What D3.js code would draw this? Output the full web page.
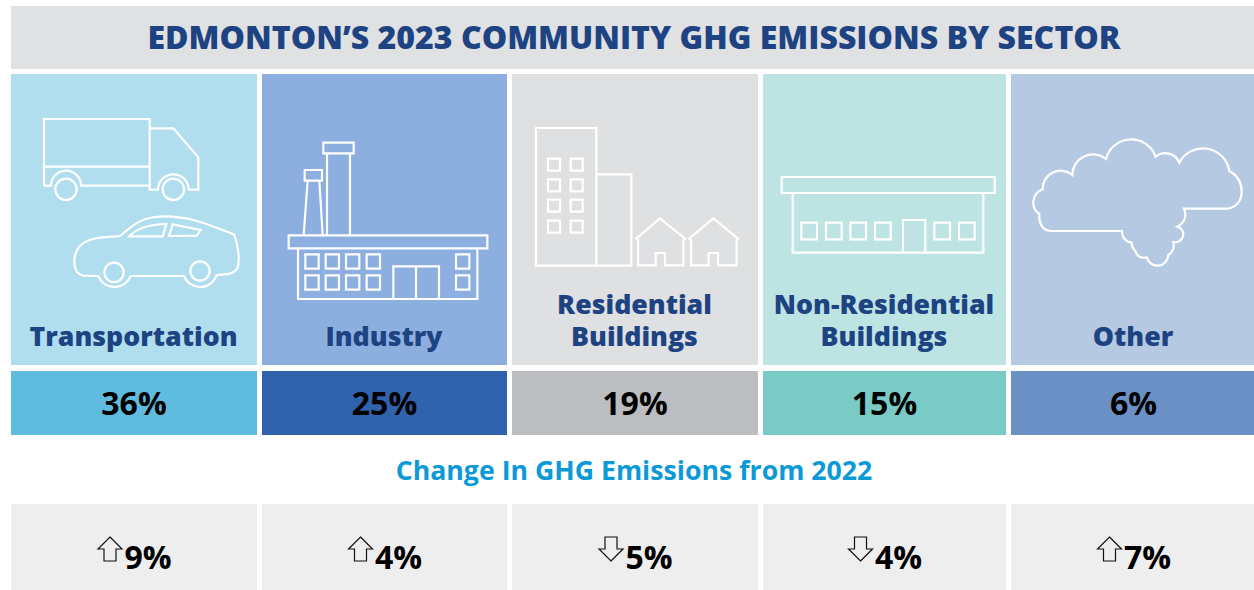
<!DOCTYPE html>
<meta charset="utf-8">
<script src="https://d3js.org/d3.v7.min.js"></script>
<style>
  html, body { margin: 0; padding: 0; background: #fff; }
  svg { display: block; }
  text { font-family: "Open Sans", sans-serif; }
</style>
<div id="my_div"></div>
<script>
    // values
    var sectors = ["Transportation", "Industry", "Residential Buildings", "Non-Residential Buildings", "Other"];
    var shares = [36, 25, 19, 15, 6];
    var changes = [9, 4, -5, -4, 7];
    var lightColors = ["#b1deee", "#8cafe0", "#dfe0e2", "#bde4e3", "#b6c9e3"];
    var darkColors = ["#60bcdf", "#3063ab", "#bbbdc1", "#7acac6", "#6b90c6"];

    var width = 1254, height = 590;

    var svg = d3.select("#my_div")
      .append("svg")
        .attr("width", width)
        .attr("height", height);

    // the columns are not quite equal in the original, the last one runs off the page
    var left = d3.scaleOrdinal().domain(sectors).range([11, 262, 512, 763, 1011]);
    var colWidth = d3.scaleOrdinal().domain(sectors).range([246, 245, 246, 243, 245]);
    var center = function(d) { return left(d) + colWidth(d) / 2; };
    var light = d3.scaleOrdinal().domain(sectors).range(lightColors);
    var dark = d3.scaleOrdinal().domain(sectors).range(darkColors);

    var navy = "#1e4382";

    // title band
    svg.append("rect").attr("x", 11).attr("y", 6).attr("width", 1243).attr("height", 63).attr("fill", "#e0e1e3");
    svg.append("text")
      .attr("x", 634).attr("y", 48.5)
      .attr("text-anchor", "middle")
      .style("font-size", "32px").style("font-weight", 800)
      .attr("fill", navy)
      .text("EDMONTON\u2019S 2023 COMMUNITY GHG EMISSIONS BY SECTOR");

    // top row with the icons
    svg.selectAll(".tile").data(sectors).enter().append("rect")
      .attr("x", left).attr("y", 74)
      .attr("width", colWidth).attr("height", 291)
      .attr("fill", light);

    // sector names, two line names start higher
    svg.selectAll(".name").data(sectors).enter().append("text")
      .attr("text-anchor", "middle")
      .attr("fill", navy)
      .style("font-size", "26.7px").style("font-weight", 800)
      .each(function(d) {
        var words = d.split(" ");
        var y = words.length > 1 ? 314 : 346;
        d3.select(this).selectAll("tspan").data(words).enter().append("tspan")
          .attr("x", center(d) - 0.5)
          .attr("y", function(w, i) { return y + i * 32; })
          .text(function(w) { return w; });
      });

    // share row
    svg.selectAll(".shareBar").data(sectors).enter().append("rect")
      .attr("x", left).attr("y", 371)
      .attr("width", colWidth).attr("height", 64)
      .attr("fill", dark);
    svg.selectAll(".shareText").data(sectors).enter().append("text")
      .attr("x", center).attr("y", 415)
      .attr("text-anchor", "middle")
      .attr("fill", "#000")
      .style("font-size", "32px").style("font-weight", 700)
      .text(function(d, i) { return shares[i] + "%"; });

    svg.append("text")
      .attr("x", 634).attr("y", 480)
      .attr("text-anchor", "middle")
      .attr("fill", "#0c9ad6")
      .style("font-size", "26.7px").style("font-weight", 700)
      .text("Change In GHG Emissions from 2022");

    // change row
    svg.selectAll(".changeBar").data(sectors).enter().append("rect")
      .attr("x", left).attr("y", 504)
      .attr("width", colWidth).attr("height", 86)
      .attr("fill", "#eeeeee");
    svg.selectAll(".changeText").data(sectors).enter().append("text")
      .attr("x", function(d) { return center(d) + 14; }).attr("y", 569)
      .attr("text-anchor", "middle")
      .attr("fill", "#000")
      .style("font-size", "32px").style("font-weight", 700)
      .text(function(d, i) { return Math.abs(changes[i]) + "%"; });

    // hollow arrows, flipped for the sectors that went down
    svg.selectAll(".changeArrow").data(sectors).enter().append("path")
      .attr("transform", function(d, i) {
        return "translate(" + (center(d) - 24) + ",549) scale(1," + (changes[i] > 0 ? 1 : -1) + ")";
      })
      .attr("d", "M0,-12L12,0H6V12H-6V0H-12Z")
      .attr("fill", "none")
      .attr("stroke", "#111")
      .attr("stroke-width", 1.2);

    // icons: outlines traced at 3x, hence the scale(1/3)
    function rect(x, y, w, h) { return "M" + x + "," + y + "h" + w + "v" + h + "h" + (-w) + "Z"; }
    function rects(xs, ys, w, h) {
      var d = "";
      xs.forEach(function(x) { ys.forEach(function(y) { d += rect(x, y, w, h); }); });
      return d;
    }
    function circle(cx, cy, r) {
      return "M" + (cx - r) + "," + cy + "a" + r + "," + r + " 0 1,0 " + (2 * r) + ",0a" + r + "," + r + " 0 1,0 " + (-2 * r) + ",0Z";
    }

    var truckCar =
      "M132,347V147H449V347H405" + "H243A45,45 0 0,0 153,347H132" +
      "M132,290H449M449,175H520L595,262V359H566A46,46 0 0,0 474,359H449V347" +
      circle(198, 358, 32) + circle(520, 358, 32) +
      "M360,498C395,470 420,440 490,439C570,438 630,465 703,494C712,520 722,570 712,595C703,612 680,614 650,615" +
      "A52,52 0 0,1 552,618L392,618A52,52 0 0,1 295,618L250,617C228,612 222,590 223,570C226,530 250,510 300,503Z" +
      "M388,499C410,475 450,463 499,462L488,499Z" +
      "M518,463L602,480L590,497L507,498Z" +
      circle(342, 607, 29) + circle(600, 603, 29);

    var factory =
      rect(190, 68, 91, 32) + "M201,100V345M270,100V345" +
      rect(134, 150, 52, 32) + "M143,182L131,345M178,182L188,345" +
      rect(86, 346, 596, 39) + rect(114, 385, 538, 152) +
      rects([136, 197, 258, 320], [403, 466], 40, 43) +
      rects([588], [403, 466], 40, 43) +
      "M400,537V439H537V537M468,439V537";

    var housing =
      rect(78, 54, 181, 413) + rect(259, 193, 105, 274) +
      rects([114, 182], [146, 208, 269, 332], 36, 36) +
      "M376,388L450,325L528,388M384,388V466H437V429H465V466H520V388" +
      "M535,388L610,325L687,388M543,388V466H596V429H624V466H680V388";

    var warehouse =
      rect(65, 171, 639, 48) + rect(98, 219, 572, 179) +
      rects([124, 198, 271, 345, 523, 597], [308], 47, 50) +
      "M429,398V300H496V398";

    var cloud =
      "M1272,266H1395C1425,266 1445,245 1445,215C1445,185 1430,165 1408,153" +
      "A80,80 0 0,0 1258,128A45,45 0 0,0 1187,110A78,78 0 0,0 1038,117" +
      "A62,62 0 0,0 937,165A54,54 0 0,0 848,208A42,42 0 0,0 838,282" +
      "C835,312 850,333 875,333H1086C1085,352 1098,366 1115,368C1115,378 1118,385 1125,392" +
      "C1132,410 1145,416 1160,412A33,33 0 0,0 1225,405C1238,398 1244,382 1240,366" +
      "A23,23 0 0,0 1252,320C1272,310 1282,290 1272,266Z";

    var iconData = [
      {sector: sectors[0], path: truckCar, x: 0, y: 70},
      {sector: sectors[1], path: factory, x: 260, y: 120},
      {sector: sectors[2], path: housing, x: 510, y: 110},
      {sector: sectors[3], path: warehouse, x: 760, y: 120},
      {sector: sectors[4], path: cloud, x: 760, y: 120}
    ];

    svg.selectAll(".icon").data(iconData).enter().append("path")
      .attr("class", "icon")
      .attr("transform", function(d) { return "translate(" + d.x + "," + d.y + ") scale(" + (1 / 3) + ")"; })
      .attr("d", function(d) { return d.path; })
      .attr("fill", "none")
      .attr("stroke", "#fff")
      .attr("stroke-width", 6.5)
      .attr("stroke-linejoin", "miter");
</script>
